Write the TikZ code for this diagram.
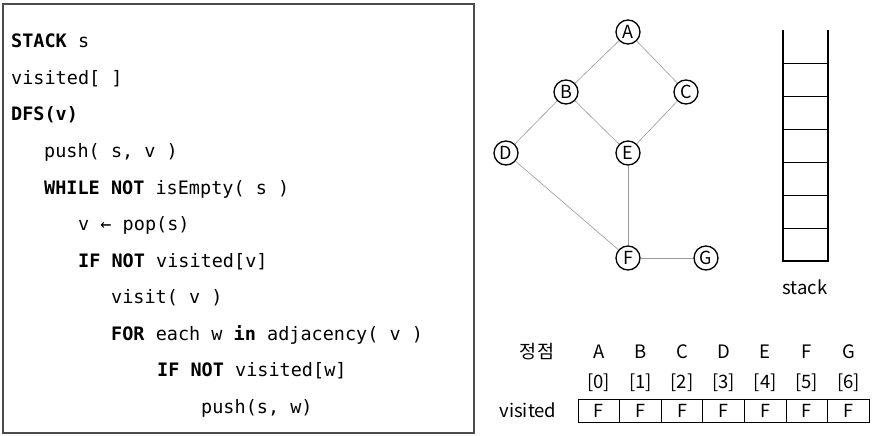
\documentclass[tikz,border=0pt]{standalone}
\usepackage{fontspec}
\setmonofont{DejaVu Sans Mono}
\newfontfamily\krfont{Noto Sans CJK KR}
\usetikzlibrary{positioning}

\tikzset{
	code/.style={anchor=base west, inner sep=0pt, font=\ttfamily\fontsize{18.5}{20}\selectfont},
	vtx/.style={circle, draw, line width=1.3pt, inner sep=0pt, minimum size=24pt, fill=white, font=\krfont\fontsize{18}{18}\selectfont},
	lnk/.style={draw=gray!80, line width=0.6pt},
	cell/.style={draw, line width=0.8pt, outer sep=0pt, inner sep=0pt, minimum width=41.6pt, minimum height=23pt, font=\krfont\fontsize{18}{18}\selectfont},
	lbl/.style={inner sep=0pt, font=\krfont\fontsize{18.5}{18.5}\selectfont}
}

\begin{document}
\begin{tikzpicture}[x=1pt, y=-1pt]
		\useasboundingbox (0,0) rectangle (873,436);

		% pseudo code
		\draw[gray!60!black, line width=1.2pt] (3,4) rectangle (474,433);
		\node[code] (l1) at (11,48) {\bfseries STACK \mdseries s};
		\node[code] (l2) at (11,84.5) {visited[ ]};
		\node[code] (l3) at (11,121) {\bfseries DFS(v)};
		\node[code] (l4) at (44,157.5) {push( s, v )};
		\node[code] (l5) at (44,194) {\textbf{WHILE NOT} isEmpty( s )};
		\node[code] (l6) at (78,230.5) {v ← pop(s)};
		\node[code] (l7) at (78,267) {\textbf{IF NOT} visited[v]};
		\node[code] (l8) at (111,303.5) {visit( v )};
		\node[code] (l9) at (111,340) {\textbf{FOR} each w \textbf{in} adjacency( v )};
		\node[code] (l10) at (157,376.5) {\textbf{IF NOT} visited[w]};
		\node[code] (l11) at (201,413) {push(s, w)};

		% graph
		\node[vtx] (A) at (628,32) {A};
		\node[vtx] (B) at (566,92) {B};
		\node[vtx] (C) at (686,92) {C};
		\node[vtx] (D) at (506,153) {D};
		\node[vtx] (E) at (628,153) {E};
		\node[vtx] (F) at (628,258) {F};
		\node[vtx] (G) at (706,258) {G};

		\path[lnk] (A) edge (B) (A) edge (C);
		\path[lnk] (B) edge (D) (B) edge (E);
		\path[lnk] (C) edge (E);
		\path[lnk] (D) edge (F) (E) edge (F);
		\path[lnk] (F) edge (G);

		% stack
		\draw[line width=2.4pt] (783,30) -- (783,261) -- (828,261) -- (828,30);
		\draw[line width=0.8pt] (783,63) -- (828,63) (783,96) -- (828,96)
			(783,129) -- (828,129) (783,162) -- (828,162)
			(783,195) -- (828,195) (783,228) -- (828,228);
		\node[lbl] (stk) at (805,287) {stack};

		% visited array
		\node[lbl] (hd) at (537,352) {정점};
		\node[lbl] (vl) at (528,410.5) {visited};

		\node[cell] (v0) at (598.8,410.5) {F};
		\node[cell, right=0pt of v0] (v1) {F};
		\node[cell, right=0pt of v1] (v2) {F};
		\node[cell, right=0pt of v2] (v3) {F};
		\node[cell, right=0pt of v3] (v4) {F};
		\node[cell, right=0pt of v4] (v5) {F};
		\node[cell, right=0pt of v5] (v6) {F};

		\node[lbl] (i0) at (598.8,383) {[0]};
		\node[lbl] (i1) at (640.4,383) {[1]};
		\node[lbl] (i2) at (682,383) {[2]};
		\node[lbl] (i3) at (723.6,383) {[3]};
		\node[lbl] (i4) at (765.2,383) {[4]};
		\node[lbl] (i5) at (806.8,383) {[5]};
		\node[lbl] (i6) at (848.4,383) {[6]};

		\node[lbl] (nA) at (598.8,352) {A};
		\node[lbl] (nB) at (640.4,352) {B};
		\node[lbl] (nC) at (682,352) {C};
		\node[lbl] (nD) at (723.6,352) {D};
		\node[lbl] (nE) at (765.2,352) {E};
		\node[lbl] (nF) at (806.8,352) {F};
		\node[lbl] (nG) at (848.4,352) {G};
	\end{tikzpicture}
\end{document}
